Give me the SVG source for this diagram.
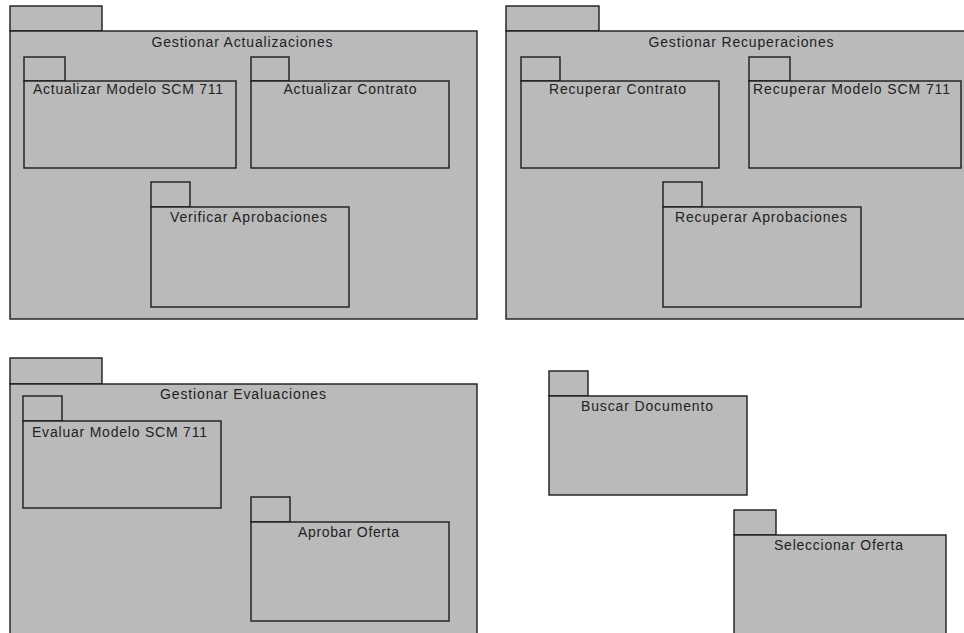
<svg xmlns="http://www.w3.org/2000/svg" width="964" height="633" viewBox="0 0 964 633">
  <style>
    .pkg { fill: #bababa; stroke: #1c1c1c; stroke-width: 1.4; }
    .lbl { font-family: "Liberation Sans", Arial, sans-serif; font-size: 14px; fill: #222222; text-anchor: middle; }
  </style>
  <rect x="0" y="0" width="964" height="633" fill="#ffffff"/>

  <!-- Gestionar Actualizaciones -->
  <g id="gestionar-actualizaciones">
    <rect class="pkg" x="10" y="6" width="92" height="25"/>
    <rect class="pkg" x="10" y="31" width="467" height="288"/>
    <text class="lbl" x="242" y="47" textLength="181" lengthAdjust="spacing">Gestionar Actualizaciones</text>
  </g>
  <g id="actualizar-modelo">
    <rect class="pkg" x="24" y="57" width="41" height="24"/>
    <rect class="pkg" x="24" y="81" width="212" height="87"/>
    <text class="lbl" x="128" y="94" textLength="190" lengthAdjust="spacing">Actualizar Modelo SCM 711</text>
  </g>
  <g id="actualizar-contrato">
    <rect class="pkg" x="251" y="57" width="38" height="24"/>
    <rect class="pkg" x="251" y="81" width="198" height="87"/>
    <text class="lbl" x="350" y="94" textLength="133" lengthAdjust="spacing">Actualizar Contrato</text>
  </g>
  <g id="verificar-aprobaciones">
    <rect class="pkg" x="151" y="182" width="39" height="25"/>
    <rect class="pkg" x="151" y="207" width="198" height="100"/>
    <text class="lbl" x="248.5" y="222" textLength="157" lengthAdjust="spacing">Verificar Aprobaciones</text>
  </g>

  <!-- Gestionar Recuperaciones -->
  <g id="gestionar-recuperaciones">
    <rect class="pkg" x="506" y="6" width="93" height="25"/>
    <rect class="pkg" x="506" y="31" width="464" height="288"/>
    <text class="lbl" x="741" y="47" textLength="185" lengthAdjust="spacing">Gestionar Recuperaciones</text>
  </g>
  <g id="recuperar-contrato">
    <rect class="pkg" x="521" y="57" width="39" height="24"/>
    <rect class="pkg" x="521" y="81" width="198" height="87"/>
    <text class="lbl" x="617.5" y="94" textLength="137" lengthAdjust="spacing">Recuperar Contrato</text>
  </g>
  <g id="recuperar-modelo">
    <rect class="pkg" x="749" y="57" width="41" height="24"/>
    <rect class="pkg" x="749" y="81" width="212" height="87"/>
    <text class="lbl" x="851.5" y="94" textLength="197" lengthAdjust="spacing">Recuperar Modelo SCM 711</text>
  </g>
  <g id="recuperar-aprobaciones">
    <rect class="pkg" x="663" y="182" width="39" height="25"/>
    <rect class="pkg" x="663" y="207" width="198" height="100"/>
    <text class="lbl" x="761" y="222" textLength="172" lengthAdjust="spacing">Recuperar Aprobaciones</text>
  </g>

  <!-- Gestionar Evaluaciones -->
  <g id="gestionar-evaluaciones">
    <rect class="pkg" x="10" y="358" width="92" height="26"/>
    <rect class="pkg" x="10" y="384" width="467" height="260"/>
    <text class="lbl" x="243" y="399" textLength="166" lengthAdjust="spacing">Gestionar Evaluaciones</text>
  </g>
  <g id="evaluar-modelo">
    <rect class="pkg" x="23" y="396" width="39" height="25"/>
    <rect class="pkg" x="23" y="421" width="198" height="87"/>
    <text class="lbl" x="119.5" y="437" textLength="175" lengthAdjust="spacing">Evaluar Modelo SCM 711</text>
  </g>
  <g id="aprobar-oferta">
    <rect class="pkg" x="251" y="497" width="39" height="25"/>
    <rect class="pkg" x="251" y="522" width="198" height="99"/>
    <text class="lbl" x="348.5" y="537" textLength="101" lengthAdjust="spacing">Aprobar Oferta</text>
  </g>

  <!-- Standalone packages -->
  <g id="buscar-documento">
    <rect class="pkg" x="549" y="371" width="39" height="25"/>
    <rect class="pkg" x="549" y="396" width="198" height="99"/>
    <text class="lbl" x="647" y="411" textLength="132" lengthAdjust="spacing">Buscar Documento</text>
  </g>
  <g id="seleccionar-oferta">
    <rect class="pkg" x="734" y="510" width="42" height="25"/>
    <rect class="pkg" x="734" y="535" width="212" height="110"/>
    <text class="lbl" x="838.5" y="550" textLength="129" lengthAdjust="spacing">Seleccionar Oferta</text>
  </g>

  <g id="connectors"/>
</svg>
